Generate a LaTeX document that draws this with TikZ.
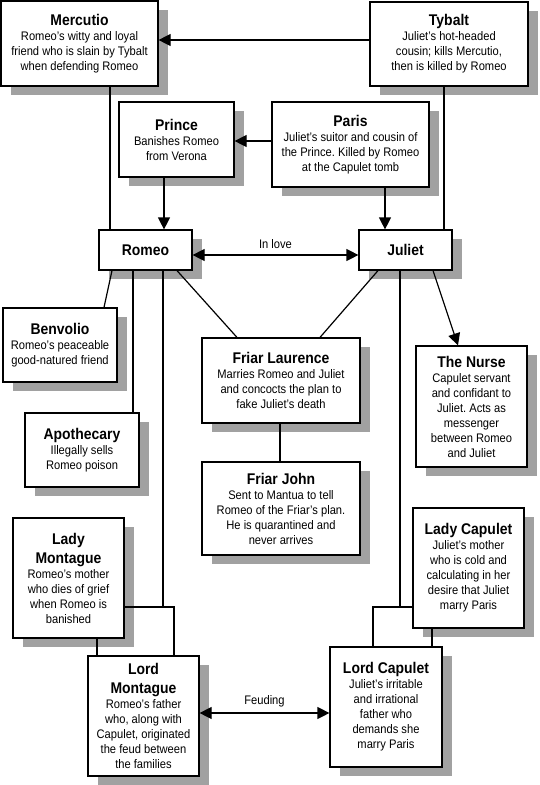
\documentclass[tikz,border=0pt]{standalone}
\usepackage{fontspec}
\setmainfont{Liberation Sans}[FakeStretch=0.9]
\usetikzlibrary{arrows.meta,shadows,calc}
\frenchspacing
\tikzset{
 box/.style 2 args={draw=black, line width=1.2pt, fill=white, minimum width=#1pt, minimum height=#2pt, inner sep=0pt, align=center, font=\fontsize{12.4}{15}\selectfont\frenchspacing, general shadow={fill=black!37, shadow xshift=9.5pt, shadow yshift=-8.5pt}},
 link/.style={draw=black, line width=1.2pt},
 arr/.style={link, -{Triangle[length=12pt,width=12pt]}},
 darr/.style={link, {Triangle[length=12pt,width=12pt]}-{Triangle[length=12pt,width=12pt]}},
 lbl/.style={font=\fontsize{12.4}{15}\selectfont, inner sep=0pt}
}
\newcommand{\ttl}[1]{{\bfseries\fontsize{15.5}{15}\selectfont #1}}
\begin{document}
\begin{tikzpicture}[x=1pt,y=-1pt]
\useasboundingbox[fill=white] (0,0) rectangle (540,785);
% boxes
\node[box={157}{85}] (merc) at (79.5,43.5) {\ttl{Mercutio}\\Romeo's witty and loyal\\friend who is slain by Tybalt\\when defending Romeo};
\node[box={158}{84}] (tyb) at (449,44) {\ttl{Tybalt}\\Juliet's hot-headed\\cousin; kills Mercutio,\\then is killed by Romeo};
\node[box={115}{75}] (pri) at (176.5,139.5) {\ttl{Prince}\\Banishes Romeo\\from Verona};
\node[box={157}{85}] (par) at (350.5,144.5) {\ttl{Paris}\\Juliet's suitor and cousin of\\the Prince. Killed by Romeo\\at the Capulet tomb};
\node[box={93}{40}] (rom) at (145.5,250) {\ttl{Romeo}};
\node[box={93}{40}] (jul) at (405.5,250) {\ttl{Juliet}};
\node[box={114}{74}] (ben) at (60,345) {\ttl{Benvolio}\\Romeo's peaceable\\good-natured friend};
\node[box={158}{85}] (fl) at (281,380.5) {\ttl{Friar Laurence}\\Marries Romeo and Juliet\\and concocts the plan to\\fake Juliet's death};
\node[box={111}{121}] (nur) at (471.5,406.5) {\ttl{The Nurse}\\Capulet servant\\and confidant to\\Juliet. Acts as\\messenger\\between Romeo\\and Juliet};
\node[box={114}{74}] (apo) at (82,450) {\ttl{Apothecary}\\Illegally sells\\Romeo poison};
\node[box={158}{93}] (fj) at (281,508.5) {\ttl{Friar John}\\Sent to Mantua to tell\\Romeo of the Friar's plan.\\He is quarantined and\\never arrives};
\node[box={111}{120}] (lm) at (68.5,578) {\ttl{Lady}\\[4pt]\ttl{Montague}\\Romeo's mother\\who dies of grief\\when Romeo is\\banished};
\node[box={111}{120}] (lc) at (468.5,568) {\ttl{Lady Capulet}\\Juliet's mother\\who is cold and\\calculating in her\\desire that Juliet\\marry Paris};
\node[box={111}{120}] (lom) at (143.5,716) {\ttl{Lord}\\[4pt]\ttl{Montague}\\Romeo's father\\who, along with\\Capulet, originated\\the feud between\\the families};
\node[box={112}{120}] (loc) at (386,707) {\ttl{Lord Capulet}\\Juliet's irritable\\and irrational\\father who\\demands she\\marry Paris};
% connectors
\draw[arr] (tyb.west |- 0,40) -- (merc.east |- 0,40);
\draw[arr] (par.west |- 0,141) -- (pri.east |- 0,141);
\draw[arr] (pri.south -| 164,0) -- (rom.north -| 164,0);
\draw[arr] (par.south -| 385,0) -- (jul.north -| 385,0);
\draw[link] (merc.south -| 110,0) -- (rom.north -| 110,0);
\draw[link] (tyb.south -| 444,0) -- (jul.north -| 444,0);
\draw[darr] (rom.east |- 0,255) -- node[lbl, above=6pt] {In love} (jul.west |- 0,255);
\draw[link] (rom.south -| 112,0) -- (ben.north -| 104,0);
\draw[link] (rom.south -| 133,0) -- (apo.north -| 133,0);
\draw[link] (rom.south -| 177,0) -- (fl.north -| 237,0);
\draw[link] (jul.south -| 378,0) -- (fl.north -| 320,0);
\draw[arr] (jul.south -| 433,0) -- (nur.north -| 458,0);
\draw[link] (fl.south -| 280,0) -- (fj.north -| 280,0);
\coordinate (mj) at (163,607);
\coordinate (cj) at (400,607);
\draw[link] (rom.south -| mj) -- (mj);
\draw[link] (jul.south -| cj) -- (cj);
\draw[link] (lm.east |- mj) -| (lom.north -| 174,0);
\draw[link] (lm.south -| 97,0) -- (lom.north -| 97,0);
\draw[link] (lc.west |- cj) -| (loc.north -| 373,0);
\draw[link] (lc.south -| 432,0) -- (loc.north -| 432,0);
\draw[darr] (lom.east |- 0,713) -- node[lbl, above=5pt] {Feuding} (loc.west |- 0,713);
\end{tikzpicture}
\end{document}
